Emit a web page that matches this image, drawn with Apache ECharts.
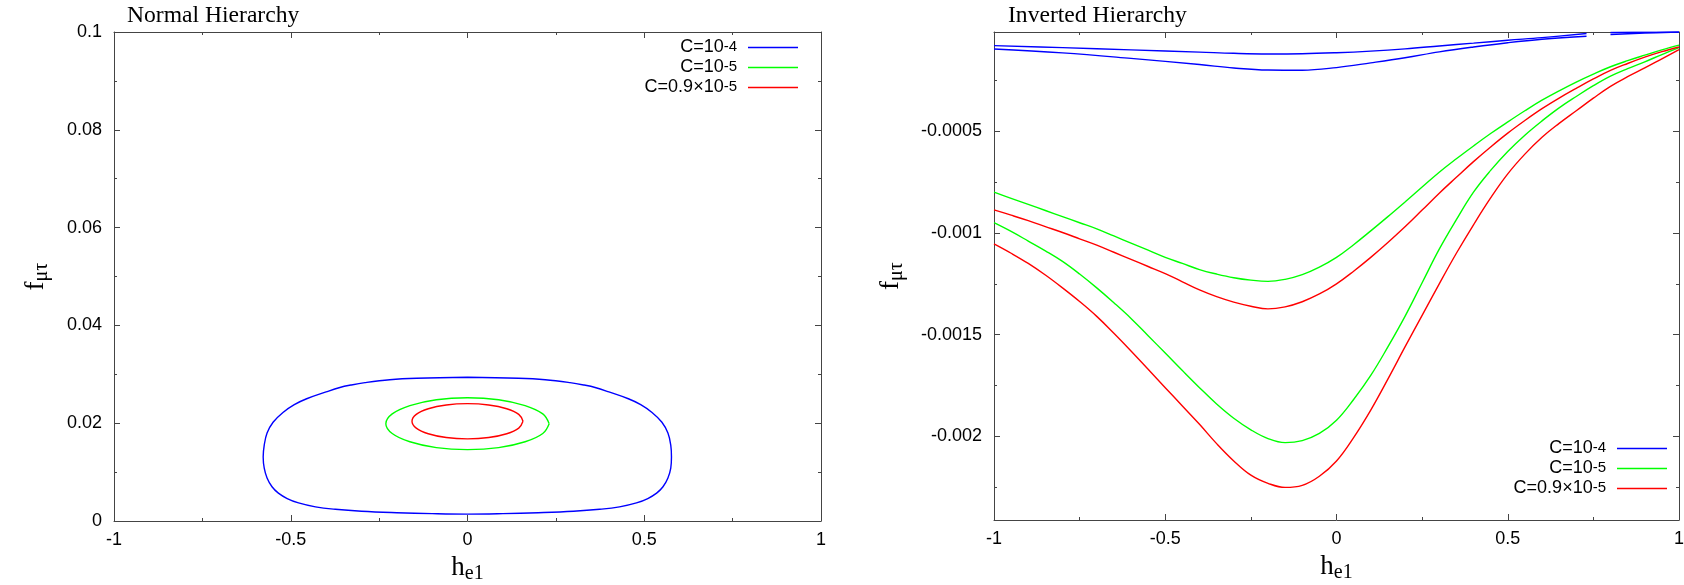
<!DOCTYPE html>
<html><head><meta charset="utf-8">
<script src="https://cdn.jsdelivr.net/npm/echarts@6/dist/echarts.min.js"></script>
<style>html,body{margin:0;padding:0;background:#fff}#c{width:1684px;height:585px}</style>
</head><body><div id="c"></div>
<script>
// ---------- data ----------
const seriesNames = ['C=1e-4', 'C=1e-5', 'C=0.9e-5'];
const seriesColors = ['#0000ff', '#00ff00', '#ff0000'];
const xTicks = [-1, -0.5, 0, 0.5, 1];

// Normal hierarchy: closed contours [h_e1, f_mutau]
const nhBlue = [[0,0.0294],[0.144,0.0292],[0.22,0.0289],[0.29,0.0283],[0.33,0.0278],[0.361,0.0273],[0.40,0.0264],[0.455,0.0250],[0.49,0.0238],[0.522,0.0222],[0.55,0.0202],[0.567,0.0180],[0.575,0.0155],[0.577,0.0131],[0.575,0.0108],[0.567,0.0088],[0.553,0.0070],[0.535,0.0057],[0.51,0.0046],[0.478,0.0037],[0.43,0.0029],[0.374,0.0024],[0.30,0.0020],[0.20,0.0017],[0.10,0.0015],[0,0.0014],[-0.10,0.0015],[-0.20,0.0017],[-0.30,0.0020],[-0.374,0.0024],[-0.43,0.0029],[-0.478,0.0037],[-0.51,0.0046],[-0.535,0.0057],[-0.553,0.0070],[-0.567,0.0088],[-0.575,0.0108],[-0.578,0.0131],[-0.575,0.0155],[-0.567,0.0180],[-0.55,0.0202],[-0.522,0.0222],[-0.49,0.0238],[-0.455,0.0250],[-0.40,0.0264],[-0.361,0.0273],[-0.33,0.0278],[-0.29,0.0283],[-0.22,0.0289],[-0.144,0.0292],[0,0.0294]];
const nhGreen = [[0.231,0.0199],[0.213,0.0219],[0.163,0.0236],[0.088,0.0248],[0,0.0252],[-0.088,0.0248],[-0.163,0.0236],[-0.213,0.0219],[-0.231,0.0199],[-0.213,0.0179],[-0.163,0.0162],[-0.088,0.0150],[0,0.0146],[0.088,0.0150],[0.163,0.0162],[0.213,0.0179],[0.231,0.0199]];
const nhRed = [[0.157,0.0204],[0.145,0.0218],[0.111,0.02295],[0.060,0.02373],[0,0.0240],[-0.060,0.02373],[-0.111,0.02295],[-0.145,0.0218],[-0.157,0.0204],[-0.145,0.0190],[-0.111,0.01785],[-0.060,0.01707],[0,0.0168],[0.060,0.01707],[0.111,0.01785],[0.145,0.0190],[0.157,0.0204]];

// Inverted hierarchy: contour branches f_mutau(h_e1)
const ihX = [-1,-0.95,-0.9,-0.85,-0.8,-0.75,-0.7,-0.65,-0.6,-0.55,-0.5,-0.45,-0.4,-0.35,-0.3,-0.25,-0.2,-0.15,-0.1,-0.05,0,0.05,0.1,0.15,0.2,0.25,0.3,0.35,0.4,0.45,0.5,0.55,0.6,0.65,0.7,0.75,0.8,0.85,0.9,0.95,1];
const ihGreenUpper = [-0.00080,-0.00083,-0.00086,-0.00089,-0.00092,-0.00095,-0.00098,-0.001015,-0.00105,-0.001085,-0.00112,-0.00115,-0.00118,-0.001202,-0.00122,-0.001232,-0.001238,-0.001228,-0.001205,-0.001168,-0.00112,-0.001058,-0.00099,-0.00092,-0.000848,-0.000775,-0.000702,-0.000636,-0.000573,-0.000512,-0.000455,-0.0004,-0.000348,-0.000302,-0.000259,-0.00022,-0.000184,-0.000154,-0.000127,-0.000101,-0.000078];
const ihRedUpper = [-0.000887,-0.000913,-0.00094,-0.000969,-0.000998,-0.001029,-0.00106,-0.001095,-0.00113,-0.001165,-0.0012,-0.00124,-0.00128,-0.001313,-0.00134,-0.00136,-0.001373,-0.001363,-0.001338,-0.0013,-0.00125,-0.001188,-0.00112,-0.001047,-0.00097,-0.000888,-0.000805,-0.000727,-0.00065,-0.000578,-0.00051,-0.000448,-0.00039,-0.000338,-0.00029,-0.000244,-0.000202,-0.000168,-0.000137,-0.00011,-0.000087];
const ihGreenLower = [-0.00095,-0.000993,-0.00104,-0.001088,-0.00114,-0.001202,-0.00127,-0.001343,-0.00142,-0.001505,-0.00159,-0.001676,-0.00176,-0.00184,-0.00191,-0.001967,-0.00201,-0.00203,-0.00202,-0.001985,-0.00192,-0.001818,-0.0017,-0.00156,-0.00141,-0.001245,-0.00108,-0.000935,-0.0008,-0.000693,-0.0006,-0.00052,-0.00045,-0.000386,-0.00033,-0.000277,-0.00023,-0.000193,-0.00016,-0.000124,-0.00009];
const ihRedLower = [-0.001054,-0.0011,-0.00115,-0.001207,-0.00127,-0.001337,-0.00141,-0.001493,-0.00158,-0.00167,-0.00176,-0.00185,-0.00194,-0.002035,-0.00212,-0.00219,-0.00223,-0.00225,-0.00224,-0.002195,-0.00212,-0.002005,-0.00187,-0.001718,-0.00156,-0.001405,-0.00125,-0.0011,-0.00096,-0.000828,-0.00071,-0.000613,-0.00053,-0.000462,-0.0004,-0.000338,-0.00028,-0.000233,-0.00019,-0.000145,-0.0001];
const ihBlueX1 = [-1,-0.8,-0.6,-0.4,-0.3,-0.2,-0.1,0,0.1,0.2,0.3,0.4,0.5,0.6,0.73];
const ihBlueUpper1 = [-0.00008,-0.00009,-0.000101,-0.000112,-0.000118,-0.000121,-0.00012,-0.000115,-0.000107,-0.000096,-0.000082,-0.000068,-0.000054,-0.000041,-0.000021];
const ihBlueLower1 = [-0.0000966,-0.000116,-0.000143,-0.000173,-0.00019,-0.0002,-0.000201,-0.000188,-0.000165,-0.00014,-0.000111,-0.000087,-0.000066,-0.000049,-0.000034];
const ihBlueX2 = [0.8, 0.9, 1];
const ihBlueUpper2 = [-0.0000155,-0.0000143,-0.0000135];
const ihBlueLower2 = [-0.0000255,-0.000019,-0.0000135];
const ihYMin = -0.00241, ihYMax = -0.0000133;

// ---------- chart ----------
const SANS = '"Liberation Sans", Arial, sans-serif';
const SERIF = '"Liberation Serif", "Times New Roman", serif';
const AX = '#444';
const legendLabels = {
  'C=1e-4': '{b|C=10}{s|-4}',
  'C=1e-5': '{b|C=10}{s|-5}',
  'C=0.9e-5': '{b|C=0.9×10}{s|-5}'
};
const legendRich = {
  b: {fontFamily: SANS, fontSize: 18, lineHeight: 17, padding: [4, 0, 0, 0], verticalAlign: 'bottom', color: '#000'},
  s: {fontFamily: SANS, fontSize: 15, lineHeight: 14, verticalAlign: 'top', color: '#000'}
};
const nameRich = {
  m: {fontFamily: SERIF, fontSize: 27, lineHeight: 27, padding: [0, 0, 6, 0], color: '#000'},
  s: {fontFamily: SERIF, fontSize: 20, lineHeight: 20, verticalAlign: 'bottom', color: '#000'}
};
const fmt = v => String(parseFloat(Number(v).toPrecision(10)));

function xAxis(gi, pos, show) {
  return {
    type: 'value', gridIndex: gi, position: pos, min: -1, max: 1, interval: 0.5,
    name: show ? '{m|h}{s|e1}' : '', nameLocation: 'middle', nameGap: 36,
    nameTextStyle: {rich: nameRich},
    axisLine: {show: true, onZero: false, lineStyle: {color: AX, width: 1}},
    axisTick: {show: true, inside: true, length: 6, lineStyle: {color: AX}},
    minorTick: {show: true, splitNumber: 2, length: 3, lineStyle: {color: AX}},
    splitLine: {show: false},
    axisLabel: {show: show, margin: 10, fontFamily: SANS, fontSize: 18, color: '#000', formatter: fmt}
  };
}
function yAxis(gi, pos, show, cfg, gap) {
  return Object.assign({
    type: 'value', gridIndex: gi, position: pos,
    name: show ? '{m|f}{s|μτ}' : '', nameLocation: 'middle', nameGap: gap,
    nameTextStyle: {rich: nameRich},
    axisLine: {show: true, onZero: false, lineStyle: {color: AX, width: 1}},
    axisTick: {show: true, inside: true, length: 6, lineStyle: {color: AX}},
    minorTick: {show: true, splitNumber: 2, length: 3, lineStyle: {color: AX}},
    splitLine: {show: false},
    axisLabel: {show: show, margin: 12, fontFamily: SANS, fontSize: 18, color: '#000', formatter: fmt,
      showMinLabel: cfg.showEnds, showMaxLabel: cfg.showEnds}
  }, cfg.range);
}
function line(name, color, data, xi, yi, sm) {
  return {type: 'line', name: name, data: data, xAxisIndex: xi, yAxisIndex: yi,
    showSymbol: false, symbol: 'none', smooth: sm, lineStyle: {color: color, width: 1.4},
    itemStyle: {color: color}, z: 3, animation: false};
}
const zip = (xs, ys) => xs.map((x, i) => [x, ys[i]]);

const nhCfg = {showEnds: true, range: {min: 0, max: 0.1, interval: 0.02}};
const ihCfg = {showEnds: false, range: {min: ihYMin, max: ihYMax, splitNumber: 5}};

const option = {
  animation: false,
  backgroundColor: '#fff',
  title: [
    {text: 'Normal Hierarchy', left: 127, top: 4, padding: 0, textStyle: {fontFamily: SERIF, fontSize: 23.6, fontWeight: 'normal', color: '#000'}},
    {text: 'Inverted Hierarchy', left: 1008, top: 4, padding: 0, textStyle: {fontFamily: SERIF, fontSize: 23.6, fontWeight: 'normal', color: '#000'}}
  ],
  grid: [
    {left: 114, top: 32, width: 707, height: 489, containLabel: false, outerBoundsMode: 'none'},
    {left: 994, top: 32, width: 685, height: 488, containLabel: false, outerBoundsMode: 'none'}
  ],
  legend: [
    {data: seriesNames, orient: 'vertical', right: 886, top: 34, align: 'right', padding: 0, itemGap: -2,
     icon: 'rect', itemWidth: 50, itemHeight: 1.5, formatter: n => legendLabels[n],
     textStyle: {rich: legendRich, padding: [0, 6, 0, 0]}, selectedMode: false},
    {data: seriesNames, orient: 'vertical', right: 17, top: 435, align: 'right', padding: 0, itemGap: -2,
     icon: 'rect', itemWidth: 50, itemHeight: 1.5, formatter: n => legendLabels[n],
     textStyle: {rich: legendRich, padding: [0, 6, 0, 0]}, selectedMode: false}
  ],
  xAxis: [xAxis(0, 'bottom', true), xAxis(0, 'top', false), xAxis(1, 'bottom', true), xAxis(1, 'top', false)],
  yAxis: [yAxis(0, 'left', true, nhCfg, 62), yAxis(0, 'right', false, nhCfg, 0),
          yAxis(1, 'left', true, ihCfg, 87), yAxis(1, 'right', false, ihCfg, 0)],
  series: [
    line(seriesNames[0], seriesColors[0], nhBlue, 0, 0, 0.4),
    line(seriesNames[1], seriesColors[1], nhGreen, 0, 0, 0.4),
    line(seriesNames[2], seriesColors[2], nhRed, 0, 0, 0.4),
    line(seriesNames[0], seriesColors[0], zip(ihBlueX1, ihBlueUpper1), 2, 2, 0.4),
    line(seriesNames[0], seriesColors[0], zip(ihBlueX1, ihBlueLower1), 2, 2, 0.4),
    line(seriesNames[0], seriesColors[0], zip(ihBlueX2, ihBlueUpper2), 2, 2, 0.4),
    line(seriesNames[0], seriesColors[0], zip(ihBlueX2, ihBlueLower2), 2, 2, 0.4),
    line(seriesNames[1], seriesColors[1], zip(ihX, ihGreenUpper), 2, 2, 0.4),
    line(seriesNames[1], seriesColors[1], zip(ihX, ihGreenLower), 2, 2, 0.4),
    line(seriesNames[2], seriesColors[2], zip(ihX, ihRedUpper), 2, 2, 0.4),
    line(seriesNames[2], seriesColors[2], zip(ihX, ihRedLower), 2, 2, 0.4)
  ]
};
const chart = echarts.init(document.getElementById('c'), null, {renderer: 'canvas'});
chart.setOption(option);
</script></body></html>
